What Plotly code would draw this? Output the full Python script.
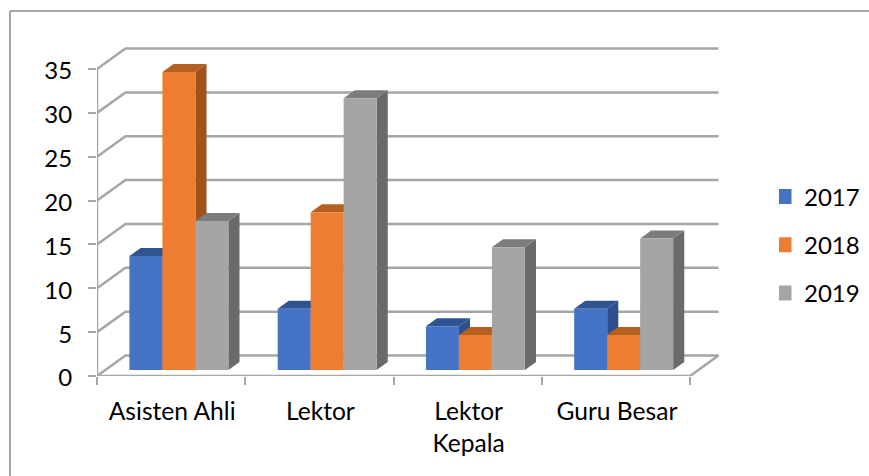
import plotly.graph_objects as go

categories = ["Asisten Ahli", "Lektor", "Lektor<br>Kepala", "Guru Besar"]
years = ["2017", "2018", "2019"]
values_2017 = [13, 7, 5, 7]
values_2018 = [34, 18, 4, 4]
values_2019 = [17, 31, 14, 15]
y_ticks = [0, 5, 10, 15, 20, 25, 30, 35]

series = [values_2017, values_2018, values_2019]
front = ["#4472C4", "#ED7D31", "#A5A5A5"]
top = ["#30548F", "#B5601F", "#7C7C7C"]
side = ["#2D4F8C", "#9E521C", "#6A6A6A"]
grid = "#A6A6A6"

W, H = 869, 476
X0, Y0 = 97, 376          # pixel position of the front-left origin
UX, UY = 148.25, 8.77     # pixels per category / per value unit
DEPTH_X, DEPTH_Y = 28.5 / UX, 20.5 / UY   # oblique projection per unit of depth
D0, D1 = 0.29, 0.68       # bar front / back depth
BAR_W = 0.2225
GROUP_L = 0.163


def proj(x, v, d):
    return x + d * DEPTH_X, v + d * DEPTH_Y


def poly(points):
    xs, ys = zip(*points)
    return list(xs) + [xs[0], None], list(ys) + [ys[0], None]


fig = go.Figure()

# walls and floor
gx, gy = [], []
for v in y_ticks:
    for p in (proj(0, v, 0), proj(0, v, 1), proj(4, v, 1)):
        gx.append(p[0]); gy.append(p[1])
    gx.append(None); gy.append(None)
fig.add_trace(go.Scatter(x=gx, y=gy, mode="lines", line=dict(color=grid, width=2.5),
                         hoverinfo="skip", showlegend=False, zorder=0))
fx = [0, 0, None, 0, 4, proj(4, 0, 1)[0]]
fy = [35, 0, None, 0, 0, proj(4, 0, 1)[1]]
fig.add_trace(go.Scatter(x=fx, y=fy, mode="lines", line=dict(color=grid, width=2.5),
                         hoverinfo="skip", showlegend=False, zorder=0))

# bars: each series has side + top + front, later series paint over earlier ones
for s, vals in enumerate(series):
    sx, sy, tx, ty, cx = [], [], [], [], []
    for c, v in enumerate(vals):
        l = c + GROUP_L + s * BAR_W
        r = l + BAR_W
        cx.append(proj((l + r) / 2, 0, D0)[0])
        a, b = poly([proj(r, 0, D0), proj(r, 0, D1), proj(r, v, D1), proj(r, v, D0)])
        sx += a; sy += b
        a, b = poly([proj(l, v, D0), proj(l, v, D1), proj(r, v, D1), proj(r, v, D0)])
        tx += a; ty += b
    z = 1 + s * 2
    fig.add_trace(go.Scatter(x=sx, y=sy, mode="lines", fill="toself", fillcolor=side[s],
                             line=dict(width=0, color=side[s]), hoverinfo="skip",
                             showlegend=False, zorder=z))
    fig.add_trace(go.Scatter(x=tx, y=ty, mode="lines", fill="toself", fillcolor=top[s],
                             line=dict(width=0, color=top[s]), hoverinfo="skip",
                             showlegend=False, zorder=z))
    fig.add_trace(go.Bar(x=cx, y=vals, base=D0 * DEPTH_Y, width=BAR_W, name=years[s],
                         marker=dict(color=front[s], line=dict(width=0)),
                         showlegend=False, zorder=z + 1))
    fig.add_trace(go.Scatter(x=[None], y=[None], mode="markers", name=years[s],
                             legendgroup=years[s], visible=True,
                             marker=dict(symbol="square", size=15, color=front[s]),
                             showlegend=True, zorder=0))

fig.update_layout(
    width=W, height=H, margin=dict(l=0, r=0, t=0, b=0),
    paper_bgcolor="white", plot_bgcolor="white",
    font=dict(family="Lato, 'Open Sans', sans-serif", color="#000000"),
    barmode="overlay", hovermode=False,
    xaxis=dict(domain=[X0 / W, 1], range=[0, (W - X0) / UX], showgrid=False, zeroline=False,
               showline=False, tickmode="array", tickvals=[i + 0.5 for i in range(4)],
               ticktext=categories, ticks="", tickfont=dict(size=24.6), ticklabelstandoff=18,
               ticklabelshift=1, automargin=False,
               minor=dict(tickmode="array", tickvals=[0, 1, 2, 3, 4], ticks="outside",
                          ticklen=8, tickwidth=1.5, tickcolor=grid, showgrid=False)),
    yaxis=dict(domain=[1 - Y0 / H, 1 - 11 / H], range=[0, (Y0 - 11) / UY], showgrid=False,
               zeroline=False, showline=False, tickmode="array", tickvals=y_ticks,
               ticks="outside", ticklen=8, tickwidth=1.5, tickcolor=grid, automargin=False,
               tickfont=dict(size=24), ticklabelstandoff=11, ticklabelshift=2),
    legend=dict(x=779 / W, xanchor="left", y=1 - 174.5 / H, yanchor="top",
                font=dict(size=24), tracegroupgap=14, indentation=-15,
                bgcolor="rgba(0,0,0,0)", traceorder="grouped"),
    shapes=[
        dict(type="line", xref="paper", yref="paper", x0=10 / W, x1=10 / W, y0=0, y1=1 - 11 / H,
             line=dict(color="#A6A6A6", width=2)),
        dict(type="line", xref="paper", yref="paper", x0=10 / W, x1=1, y0=1 - 11 / H, y1=1 - 11 / H,
             line=dict(color="#A6A6A6", width=2)),
    ],
)

fig.write_html("out.html", config=dict(displayModeBar=False),
               post_script="document.body.style.margin='0';")
